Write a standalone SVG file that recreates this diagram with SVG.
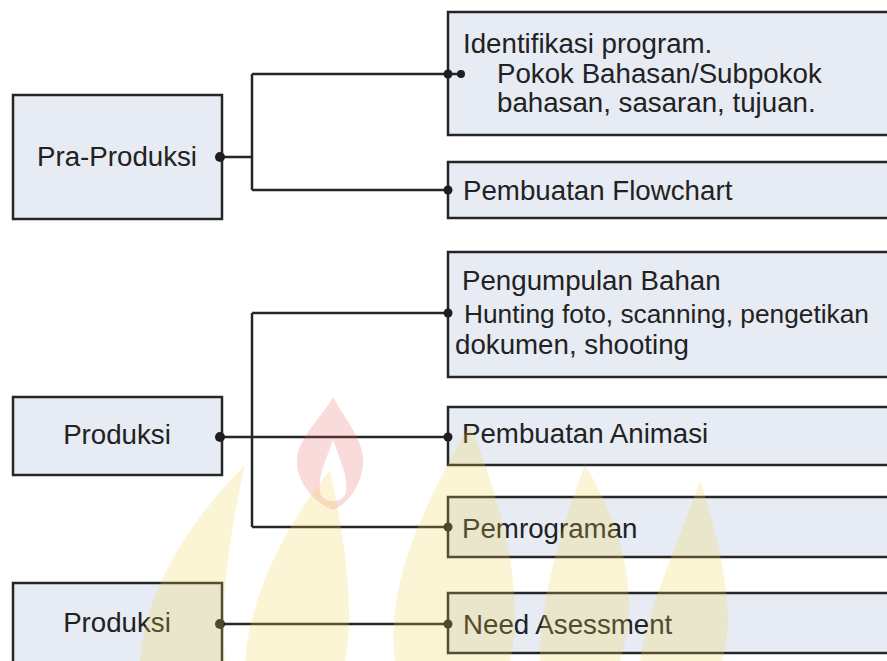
<svg xmlns="http://www.w3.org/2000/svg" width="887" height="661" viewBox="0 0 887 661">
<style>
.box{fill:#e7ebf3;stroke:#262626;stroke-width:2.5}
.t{font-family:"Liberation Sans",Arial,sans-serif;font-size:27.7px;fill:#222}
.c{text-anchor:middle}
.ln{fill:none;stroke:#262626;stroke-width:2.5}
.dot{fill:#1e1e1e}
.wy{fill:#f3d54e;opacity:0.24}
.wr{fill:#e85a5a;opacity:0.22}
</style>
<rect width="887" height="661" fill="#ffffff"/>
<g id="n1"><rect class="box" x="13" y="95" width="209" height="124"/><text class="t c" x="117" y="166">Pra-Produksi</text></g>
<g id="n2"><rect class="box" x="448" y="12" width="460" height="123"/>
<text class="t" x="463" y="53">Identifikasi program.</text>
<text class="t" x="497" y="83">Pokok Bahasan/Subpokok</text>
<text class="t" x="497" y="112">bahasan, sasaran, tujuan.</text></g>
<g id="n3"><rect class="box" x="448" y="162" width="460" height="56"/><text class="t" x="463" y="200">Pembuatan Flowchart</text></g>
<g id="n4"><rect class="box" x="13" y="397" width="209" height="78"/><text class="t c" x="117" y="444">Produksi</text></g>
<g id="n5"><rect class="box" x="448" y="252" width="460" height="125"/>
<text class="t" x="462" y="290">Pengumpulan Bahan</text>
<text class="t" x="464" y="323" style="font-size:26.3px">Hunting foto, scanning, pengetikan</text>
<text class="t" x="455" y="354">dokumen, shooting</text></g>
<g id="n6"><rect class="box" x="448" y="407" width="460" height="58"/><text class="t" x="462" y="443">Pembuatan Animasi</text></g>
<g id="n7"><rect class="box" x="448" y="497" width="460" height="60"/><text class="t" x="462" y="538">Pemrograman</text></g>
<g id="n8"><rect class="box" x="13" y="583" width="209" height="100"/><text class="t c" x="117" y="632">Produksi</text></g>
<g id="n9"><rect class="box" x="448" y="593" width="460" height="60"/><text class="t" x="463" y="634">Need Asessment</text></g>
<g id="connectors">
<path class="ln" d="M222,157 H252 M252,74 V190 M252,74 H448 M252,190 H448 M448,74 H461"/>
<path class="ln" d="M222,437 H448 M252,313 V527 M252,313 H448 M252,527 H448"/>
<path class="ln" d="M222,624 H448"/>
<circle class="dot" cx="220" cy="157" r="5"/>
<circle class="dot" cx="448" cy="74" r="4.5"/>
<circle class="dot" cx="461" cy="74" r="4"/>
<circle class="dot" cx="448" cy="190" r="4.5"/>
<circle class="dot" cx="220" cy="437" r="5"/>
<circle class="dot" cx="448" cy="313" r="4.5"/>
<circle class="dot" cx="448" cy="437" r="4.5"/>
<circle class="dot" cx="448" cy="527" r="4.5"/>
<circle class="dot" cx="220" cy="624" r="5"/>
<circle class="dot" cx="448" cy="624" r="4.5"/>
</g>
<g id="watermark">
<path class="wr" fill-rule="evenodd" d="M333,397 C345,420 365,440 363,465 C360,490 345,505 333,510 C320,505 300,490 297,465 C295,440 320,420 333,397 Z M333,440 C340,460 350,480 345,495 C340,503 326,503 321,495 C316,480 326,460 333,440 Z"/>
<path class="wy" d="M140,661 C145,590 190,520 245,465 C230,530 220,600 225,661 Z"/>
<path class="wy" d="M245,661 C250,590 290,520 330,470 C345,540 355,610 345,661 Z"/>
<path class="wy" d="M395,661 C385,590 420,510 470,425 C505,510 525,600 510,661 Z"/>
<path class="wy" d="M540,661 C540,600 560,530 585,465 C625,530 640,600 620,661 Z"/>
<path class="wy" d="M640,661 C650,600 680,540 700,480 C725,560 735,620 722,661 Z"/>
</g>
</svg>
